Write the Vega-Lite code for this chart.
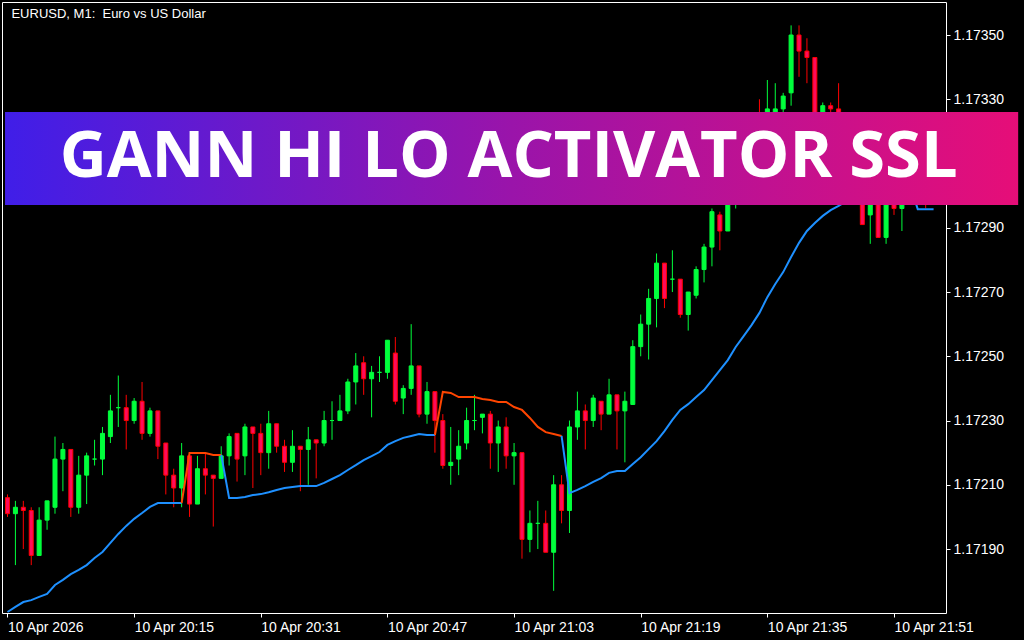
{
  "$schema": "https://vega.github.io/schema/vega-lite/v6.json",
  "width": 944,
  "height": 611,
  "autosize": {"type": "none"},
  "padding": {"left": 2, "top": 2, "right": 78, "bottom": 27},
  "background": "#000000",
  "config": {
    "view": {"stroke": "#ffffff", "strokeWidth": 1},
    "axis": {
      "title": null, "grid": false, "domain": false,
      "tickSize": 4, "tickColor": "#ffffff", "tickWidth": 1,
      "labelColor": "#ffffff", "labelFont": "Liberation Sans", "labelFontSize": 14,
      "labelFlush": false, "labelOverlap": false, "labelBound": false
    }
  },
  "datasets": {
    "candles": [
      {"t":"2026-04-10T19:59","o":1.17206,"h":1.17207,"l":1.17200,"c":1.17201},
      {"t":"2026-04-10T20:00","o":1.17201,"h":1.17205,"l":1.17185,"c":1.17203},
      {"t":"2026-04-10T20:01","o":1.17203,"h":1.17205,"l":1.17190,"c":1.17202},
      {"t":"2026-04-10T20:02","o":1.17202,"h":1.17203,"l":1.17185,"c":1.17188},
      {"t":"2026-04-10T20:03","o":1.17188,"h":1.17203,"l":1.17188,"c":1.17199},
      {"t":"2026-04-10T20:04","o":1.17199,"h":1.17205,"l":1.17196,"c":1.17205},
      {"t":"2026-04-10T20:05","o":1.17203,"h":1.17225,"l":1.17201,"c":1.17218},
      {"t":"2026-04-10T20:06","o":1.17218,"h":1.17223,"l":1.17208,"c":1.17221},
      {"t":"2026-04-10T20:07","o":1.17221,"h":1.17221,"l":1.17200,"c":1.17203},
      {"t":"2026-04-10T20:08","o":1.17203,"h":1.17219,"l":1.17201,"c":1.17213},
      {"t":"2026-04-10T20:09","o":1.17213,"h":1.17220,"l":1.17204,"c":1.17219},
      {"t":"2026-04-10T20:10","o":1.17218,"h":1.17224,"l":1.17216,"c":1.17218},
      {"t":"2026-04-10T20:11","o":1.17218,"h":1.17228,"l":1.17213,"c":1.17226},
      {"t":"2026-04-10T20:12","o":1.17225,"h":1.17238,"l":1.17223,"c":1.17233},
      {"t":"2026-04-10T20:13","o":1.17234,"h":1.17244,"l":1.17228,"c":1.17234},
      {"t":"2026-04-10T20:14","o":1.17234,"h":1.17238,"l":1.17221,"c":1.17230},
      {"t":"2026-04-10T20:15","o":1.17230,"h":1.17237,"l":1.17229,"c":1.17236},
      {"t":"2026-04-10T20:16","o":1.17236,"h":1.17242,"l":1.17224,"c":1.17226},
      {"t":"2026-04-10T20:17","o":1.17226,"h":1.17234,"l":1.17225,"c":1.17233},
      {"t":"2026-04-10T20:18","o":1.17233,"h":1.17233,"l":1.17218,"c":1.17222},
      {"t":"2026-04-10T20:19","o":1.17223,"h":1.17223,"l":1.17207,"c":1.17213},
      {"t":"2026-04-10T20:20","o":1.17213,"h":1.17215,"l":1.17203,"c":1.17209},
      {"t":"2026-04-10T20:21","o":1.17209,"h":1.17223,"l":1.17203,"c":1.17219},
      {"t":"2026-04-10T20:22","o":1.17219,"h":1.17219,"l":1.17200,"c":1.17204},
      {"t":"2026-04-10T20:23","o":1.17204,"h":1.17219,"l":1.17204,"c":1.17215},
      {"t":"2026-04-10T20:24","o":1.17215,"h":1.17220,"l":1.17207,"c":1.17213},
      {"t":"2026-04-10T20:25","o":1.17213,"h":1.17213,"l":1.17197,"c":1.17212},
      {"t":"2026-04-10T20:26","o":1.17212,"h":1.17222,"l":1.17212,"c":1.17219},
      {"t":"2026-04-10T20:27","o":1.17219,"h":1.17226,"l":1.17216,"c":1.17225},
      {"t":"2026-04-10T20:28","o":1.17226,"h":1.17226,"l":1.17211,"c":1.17218},
      {"t":"2026-04-10T20:29","o":1.17219,"h":1.17229,"l":1.17213,"c":1.17228},
      {"t":"2026-04-10T20:30","o":1.17228,"h":1.17228,"l":1.17209,"c":1.17226},
      {"t":"2026-04-10T20:31","o":1.17226,"h":1.17229,"l":1.17213,"c":1.17220},
      {"t":"2026-04-10T20:32","o":1.17220,"h":1.17233,"l":1.17215,"c":1.17229},
      {"t":"2026-04-10T20:33","o":1.17229,"h":1.17229,"l":1.17220,"c":1.17222},
      {"t":"2026-04-10T20:34","o":1.17222,"h":1.17224,"l":1.17214,"c":1.17217},
      {"t":"2026-04-10T20:35","o":1.17217,"h":1.17227,"l":1.17214,"c":1.17222},
      {"t":"2026-04-10T20:36","o":1.17222,"h":1.17222,"l":1.17208,"c":1.17221},
      {"t":"2026-04-10T20:37","o":1.17221,"h":1.17228,"l":1.17210,"c":1.17224},
      {"t":"2026-04-10T20:38","o":1.17224,"h":1.17224,"l":1.17212,"c":1.17223},
      {"t":"2026-04-10T20:39","o":1.17223,"h":1.17233,"l":1.17222,"c":1.17230},
      {"t":"2026-04-10T20:40","o":1.17230,"h":1.17236,"l":1.17224,"c":1.17230},
      {"t":"2026-04-10T20:41","o":1.17230,"h":1.17238,"l":1.17230,"c":1.17233},
      {"t":"2026-04-10T20:42","o":1.17233,"h":1.17243,"l":1.17232,"c":1.17242},
      {"t":"2026-04-10T20:43","o":1.17242,"h":1.17251,"l":1.17235,"c":1.17247},
      {"t":"2026-04-10T20:44","o":1.17248,"h":1.17250,"l":1.17238,"c":1.17243},
      {"t":"2026-04-10T20:45","o":1.17243,"h":1.17247,"l":1.17231,"c":1.17245},
      {"t":"2026-04-10T20:46","o":1.17245,"h":1.17250,"l":1.17242,"c":1.17245},
      {"t":"2026-04-10T20:47","o":1.17245,"h":1.17255,"l":1.17243,"c":1.17255},
      {"t":"2026-04-10T20:48","o":1.17251,"h":1.17256,"l":1.17235,"c":1.17236},
      {"t":"2026-04-10T20:49","o":1.17237,"h":1.17241,"l":1.17232,"c":1.17240},
      {"t":"2026-04-10T20:50","o":1.17240,"h":1.17260,"l":1.17238,"c":1.17247},
      {"t":"2026-04-10T20:51","o":1.17247,"h":1.17247,"l":1.17231,"c":1.17232},
      {"t":"2026-04-10T20:52","o":1.17232,"h":1.17242,"l":1.17229,"c":1.17239},
      {"t":"2026-04-10T20:53","o":1.17239,"h":1.17239,"l":1.17220,"c":1.17230},
      {"t":"2026-04-10T20:54","o":1.17230,"h":1.17232,"l":1.17215,"c":1.17216},
      {"t":"2026-04-10T20:55","o":1.17216,"h":1.17228,"l":1.17210,"c":1.17217},
      {"t":"2026-04-10T20:56","o":1.17218,"h":1.17227,"l":1.17213,"c":1.17222},
      {"t":"2026-04-10T20:57","o":1.17223,"h":1.17234,"l":1.17221,"c":1.17230},
      {"t":"2026-04-10T20:58","o":1.17230,"h":1.17238,"l":1.17227,"c":1.17230},
      {"t":"2026-04-10T20:59","o":1.17231,"h":1.17232,"l":1.17226,"c":1.17232},
      {"t":"2026-04-10T21:00","o":1.17232,"h":1.17233,"l":1.17215,"c":1.17223},
      {"t":"2026-04-10T21:01","o":1.17223,"h":1.17230,"l":1.17214,"c":1.17228},
      {"t":"2026-04-10T21:02","o":1.17228,"h":1.17231,"l":1.17215,"c":1.17219},
      {"t":"2026-04-10T21:03","o":1.17219,"h":1.17223,"l":1.17210,"c":1.17220},
      {"t":"2026-04-10T21:04","o":1.17220,"h":1.17220,"l":1.17187,"c":1.17193},
      {"t":"2026-04-10T21:05","o":1.17193,"h":1.17202,"l":1.17189,"c":1.17198},
      {"t":"2026-04-10T21:06","o":1.17198,"h":1.17205,"l":1.17190,"c":1.17198},
      {"t":"2026-04-10T21:07","o":1.17198,"h":1.17202,"l":1.17189,"c":1.17189},
      {"t":"2026-04-10T21:08","o":1.17189,"h":1.17213,"l":1.17177,"c":1.17210},
      {"t":"2026-04-10T21:09","o":1.17210,"h":1.17213,"l":1.17198,"c":1.17202},
      {"t":"2026-04-10T21:10","o":1.17202,"h":1.17230,"l":1.17195,"c":1.17228},
      {"t":"2026-04-10T21:11","o":1.17228,"h":1.17239,"l":1.17224,"c":1.17233},
      {"t":"2026-04-10T21:12","o":1.17233,"h":1.17235,"l":1.17221,"c":1.17230},
      {"t":"2026-04-10T21:13","o":1.17230,"h":1.17238,"l":1.17228,"c":1.17237},
      {"t":"2026-04-10T21:14","o":1.17236,"h":1.17236,"l":1.17227,"c":1.17232},
      {"t":"2026-04-10T21:15","o":1.17232,"h":1.17243,"l":1.17232,"c":1.17238},
      {"t":"2026-04-10T21:16","o":1.17238,"h":1.17238,"l":1.17221,"c":1.17233},
      {"t":"2026-04-10T21:17","o":1.17233,"h":1.17239,"l":1.17217,"c":1.17236},
      {"t":"2026-04-10T21:18","o":1.17235,"h":1.17255,"l":1.17235,"c":1.17253},
      {"t":"2026-04-10T21:19","o":1.17253,"h":1.17263,"l":1.17250,"c":1.17260},
      {"t":"2026-04-10T21:20","o":1.17260,"h":1.17271,"l":1.17249,"c":1.17268},
      {"t":"2026-04-10T21:21","o":1.17268,"h":1.17282,"l":1.17259,"c":1.17279},
      {"t":"2026-04-10T21:22","o":1.17279,"h":1.17279,"l":1.17265,"c":1.17268},
      {"t":"2026-04-10T21:23","o":1.17274,"h":1.17283,"l":1.17270,"c":1.17274},
      {"t":"2026-04-10T21:24","o":1.17274,"h":1.17274,"l":1.17262,"c":1.17263},
      {"t":"2026-04-10T21:25","o":1.17263,"h":1.17270,"l":1.17258,"c":1.17270},
      {"t":"2026-04-10T21:26","o":1.17269,"h":1.17278,"l":1.17268,"c":1.17277},
      {"t":"2026-04-10T21:27","o":1.17277,"h":1.17285,"l":1.17273,"c":1.17284},
      {"t":"2026-04-10T21:28","o":1.17284,"h":1.17296,"l":1.17278,"c":1.17295},
      {"t":"2026-04-10T21:29","o":1.17294,"h":1.17295,"l":1.17283,"c":1.17289},
      {"t":"2026-04-10T21:30","o":1.17289,"h":1.17307,"l":1.17289,"c":1.17305},
      {"t":"2026-04-10T21:31","o":1.17300,"h":1.17312,"l":1.17296,"c":1.17310},
      {"t":"2026-04-10T21:32","o":1.17310,"h":1.17313,"l":1.17304,"c":1.17306},
      {"t":"2026-04-10T21:33","o":1.17306,"h":1.17315,"l":1.17303,"c":1.17312},
      {"t":"2026-04-10T21:34","o":1.17318,"h":1.17330,"l":1.17306,"c":1.17310},
      {"t":"2026-04-10T21:35","o":1.17312,"h":1.17336,"l":1.17308,"c":1.17327},
      {"t":"2026-04-10T21:36","o":1.17318,"h":1.17335,"l":1.17314,"c":1.17327},
      {"t":"2026-04-10T21:37","o":1.17327,"h":1.17332,"l":1.17325,"c":1.17331},
      {"t":"2026-04-10T21:38","o":1.17332,"h":1.17353,"l":1.17328,"c":1.17350},
      {"t":"2026-04-10T21:39","o":1.17350,"h":1.17353,"l":1.17337,"c":1.17345},
      {"t":"2026-04-10T21:40","o":1.17345,"h":1.17349,"l":1.17335,"c":1.17343},
      {"t":"2026-04-10T21:41","o":1.17343,"h":1.17343,"l":1.17314,"c":1.17318},
      {"t":"2026-04-10T21:42","o":1.17318,"h":1.17329,"l":1.17315,"c":1.17328},
      {"t":"2026-04-10T21:43","o":1.17328,"h":1.17329,"l":1.17320,"c":1.17327},
      {"t":"2026-04-10T21:44","o":1.17327,"h":1.17335,"l":1.17310,"c":1.17315},
      {"t":"2026-04-10T21:45","o":1.17315,"h":1.17318,"l":1.17305,"c":1.17308},
      {"t":"2026-04-10T21:46","o":1.17308,"h":1.17312,"l":1.17301,"c":1.17304},
      {"t":"2026-04-10T21:47","o":1.17302,"h":1.17305,"l":1.17291,"c":1.17291},
      {"t":"2026-04-10T21:48","o":1.17294,"h":1.17303,"l":1.17285,"c":1.17300},
      {"t":"2026-04-10T21:49","o":1.17300,"h":1.17303,"l":1.17287,"c":1.17287},
      {"t":"2026-04-10T21:50","o":1.17287,"h":1.17304,"l":1.17285,"c":1.17302},
      {"t":"2026-04-10T21:51","o":1.17300,"h":1.17302,"l":1.17294,"c":1.17296},
      {"t":"2026-04-10T21:52","o":1.17296,"h":1.17303,"l":1.17289,"c":1.17301},
      {"t":"2026-04-10T21:53","o":1.17301,"h":1.17303,"l":1.17298,"c":1.17299},
      {"t":"2026-04-10T21:54","o":1.17299,"h":1.17303,"l":1.17298,"c":1.17301},
      {"t":"2026-04-10T21:55","o":1.17301,"h":1.17303,"l":1.17296,"c":1.17299},
      {"t":"2026-04-10T21:56","o":1.17299,"h":1.17301,"l":1.17298,"c":1.17300}
    ],
    "ssl": [
      {"t":"2026-04-10T19:59","v":1.171704,"seg":1,"trend":"up"},
      {"t":"2026-04-10T20:00","v":1.171720,"seg":1,"trend":"up"},
      {"t":"2026-04-10T20:01","v":1.171735,"seg":1,"trend":"up"},
      {"t":"2026-04-10T20:02","v":1.171741,"seg":1,"trend":"up"},
      {"t":"2026-04-10T20:03","v":1.171751,"seg":1,"trend":"up"},
      {"t":"2026-04-10T20:04","v":1.171760,"seg":1,"trend":"up"},
      {"t":"2026-04-10T20:05","v":1.171788,"seg":1,"trend":"up"},
      {"t":"2026-04-10T20:06","v":1.171804,"seg":1,"trend":"up"},
      {"t":"2026-04-10T20:07","v":1.171822,"seg":1,"trend":"up"},
      {"t":"2026-04-10T20:08","v":1.171835,"seg":1,"trend":"up"},
      {"t":"2026-04-10T20:09","v":1.171850,"seg":1,"trend":"up"},
      {"t":"2026-04-10T20:10","v":1.171872,"seg":1,"trend":"up"},
      {"t":"2026-04-10T20:11","v":1.171891,"seg":1,"trend":"up"},
      {"t":"2026-04-10T20:12","v":1.171919,"seg":1,"trend":"up"},
      {"t":"2026-04-10T20:13","v":1.171947,"seg":1,"trend":"up"},
      {"t":"2026-04-10T20:14","v":1.171972,"seg":1,"trend":"up"},
      {"t":"2026-04-10T20:15","v":1.171994,"seg":1,"trend":"up"},
      {"t":"2026-04-10T20:16","v":1.172012,"seg":1,"trend":"up"},
      {"t":"2026-04-10T20:17","v":1.172031,"seg":1,"trend":"up"},
      {"t":"2026-04-10T20:18","v":1.172043,"seg":1,"trend":"up"},
      {"t":"2026-04-10T20:19","v":1.172043,"seg":1,"trend":"up"},
      {"t":"2026-04-10T20:20","v":1.172043,"seg":1,"trend":"up"},
      {"t":"2026-04-10T20:21","v":1.172043,"seg":1,"trend":"up"},
      {"t":"2026-04-10T20:21","v":1.172043,"seg":2,"trend":"down"},
      {"t":"2026-04-10T20:22","v":1.172199,"seg":2,"trend":"down"},
      {"t":"2026-04-10T20:23","v":1.172199,"seg":2,"trend":"down"},
      {"t":"2026-04-10T20:24","v":1.172199,"seg":2,"trend":"down"},
      {"t":"2026-04-10T20:25","v":1.172193,"seg":2,"trend":"down"},
      {"t":"2026-04-10T20:26","v":1.172193,"seg":2,"trend":"down"},
      {"t":"2026-04-10T20:26","v":1.172193,"seg":3,"trend":"up"},
      {"t":"2026-04-10T20:27","v":1.172059,"seg":3,"trend":"up"},
      {"t":"2026-04-10T20:28","v":1.172059,"seg":3,"trend":"up"},
      {"t":"2026-04-10T20:29","v":1.172062,"seg":3,"trend":"up"},
      {"t":"2026-04-10T20:30","v":1.172068,"seg":3,"trend":"up"},
      {"t":"2026-04-10T20:31","v":1.172071,"seg":3,"trend":"up"},
      {"t":"2026-04-10T20:32","v":1.172077,"seg":3,"trend":"up"},
      {"t":"2026-04-10T20:33","v":1.172084,"seg":3,"trend":"up"},
      {"t":"2026-04-10T20:34","v":1.172090,"seg":3,"trend":"up"},
      {"t":"2026-04-10T20:35","v":1.172093,"seg":3,"trend":"up"},
      {"t":"2026-04-10T20:36","v":1.172096,"seg":3,"trend":"up"},
      {"t":"2026-04-10T20:37","v":1.172096,"seg":3,"trend":"up"},
      {"t":"2026-04-10T20:38","v":1.172096,"seg":3,"trend":"up"},
      {"t":"2026-04-10T20:39","v":1.172106,"seg":3,"trend":"up"},
      {"t":"2026-04-10T20:40","v":1.172118,"seg":3,"trend":"up"},
      {"t":"2026-04-10T20:41","v":1.172130,"seg":3,"trend":"up"},
      {"t":"2026-04-10T20:42","v":1.172146,"seg":3,"trend":"up"},
      {"t":"2026-04-10T20:43","v":1.172161,"seg":3,"trend":"up"},
      {"t":"2026-04-10T20:44","v":1.172177,"seg":3,"trend":"up"},
      {"t":"2026-04-10T20:45","v":1.172189,"seg":3,"trend":"up"},
      {"t":"2026-04-10T20:46","v":1.172202,"seg":3,"trend":"up"},
      {"t":"2026-04-10T20:47","v":1.172224,"seg":3,"trend":"up"},
      {"t":"2026-04-10T20:48","v":1.172236,"seg":3,"trend":"up"},
      {"t":"2026-04-10T20:49","v":1.172246,"seg":3,"trend":"up"},
      {"t":"2026-04-10T20:50","v":1.172252,"seg":3,"trend":"up"},
      {"t":"2026-04-10T20:51","v":1.172258,"seg":3,"trend":"up"},
      {"t":"2026-04-10T20:52","v":1.172255,"seg":3,"trend":"up"},
      {"t":"2026-04-10T20:53","v":1.172255,"seg":3,"trend":"up"},
      {"t":"2026-04-10T20:53","v":1.172255,"seg":4,"trend":"down"},
      {"t":"2026-04-10T20:54","v":1.172389,"seg":4,"trend":"down"},
      {"t":"2026-04-10T20:55","v":1.172386,"seg":4,"trend":"down"},
      {"t":"2026-04-10T20:56","v":1.172373,"seg":4,"trend":"down"},
      {"t":"2026-04-10T20:57","v":1.172373,"seg":4,"trend":"down"},
      {"t":"2026-04-10T20:58","v":1.172373,"seg":4,"trend":"down"},
      {"t":"2026-04-10T20:59","v":1.172367,"seg":4,"trend":"down"},
      {"t":"2026-04-10T21:00","v":1.172364,"seg":4,"trend":"down"},
      {"t":"2026-04-10T21:01","v":1.172358,"seg":4,"trend":"down"},
      {"t":"2026-04-10T21:02","v":1.172358,"seg":4,"trend":"down"},
      {"t":"2026-04-10T21:03","v":1.172342,"seg":4,"trend":"down"},
      {"t":"2026-04-10T21:04","v":1.172333,"seg":4,"trend":"down"},
      {"t":"2026-04-10T21:05","v":1.172308,"seg":4,"trend":"down"},
      {"t":"2026-04-10T21:06","v":1.172280,"seg":4,"trend":"down"},
      {"t":"2026-04-10T21:07","v":1.172264,"seg":4,"trend":"down"},
      {"t":"2026-04-10T21:08","v":1.172258,"seg":4,"trend":"down"},
      {"t":"2026-04-10T21:09","v":1.172252,"seg":4,"trend":"down"},
      {"t":"2026-04-10T21:09","v":1.172252,"seg":5,"trend":"up"},
      {"t":"2026-04-10T21:10","v":1.172074,"seg":5,"trend":"up"},
      {"t":"2026-04-10T21:11","v":1.172084,"seg":5,"trend":"up"},
      {"t":"2026-04-10T21:12","v":1.172096,"seg":5,"trend":"up"},
      {"t":"2026-04-10T21:13","v":1.172109,"seg":5,"trend":"up"},
      {"t":"2026-04-10T21:14","v":1.172121,"seg":5,"trend":"up"},
      {"t":"2026-04-10T21:15","v":1.172137,"seg":5,"trend":"up"},
      {"t":"2026-04-10T21:16","v":1.172143,"seg":5,"trend":"up"},
      {"t":"2026-04-10T21:17","v":1.172143,"seg":5,"trend":"up"},
      {"t":"2026-04-10T21:18","v":1.172165,"seg":5,"trend":"up"},
      {"t":"2026-04-10T21:19","v":1.172186,"seg":5,"trend":"up"},
      {"t":"2026-04-10T21:20","v":1.172211,"seg":5,"trend":"up"},
      {"t":"2026-04-10T21:21","v":1.172236,"seg":5,"trend":"up"},
      {"t":"2026-04-10T21:22","v":1.172267,"seg":5,"trend":"up"},
      {"t":"2026-04-10T21:23","v":1.172302,"seg":5,"trend":"up"},
      {"t":"2026-04-10T21:24","v":1.172333,"seg":5,"trend":"up"},
      {"t":"2026-04-10T21:25","v":1.172351,"seg":5,"trend":"up"},
      {"t":"2026-04-10T21:26","v":1.172373,"seg":5,"trend":"up"},
      {"t":"2026-04-10T21:27","v":1.172395,"seg":5,"trend":"up"},
      {"t":"2026-04-10T21:28","v":1.172426,"seg":5,"trend":"up"},
      {"t":"2026-04-10T21:29","v":1.172457,"seg":5,"trend":"up"},
      {"t":"2026-04-10T21:30","v":1.172488,"seg":5,"trend":"up"},
      {"t":"2026-04-10T21:31","v":1.172529,"seg":5,"trend":"up"},
      {"t":"2026-04-10T21:32","v":1.172563,"seg":5,"trend":"up"},
      {"t":"2026-04-10T21:33","v":1.172597,"seg":5,"trend":"up"},
      {"t":"2026-04-10T21:34","v":1.172635,"seg":5,"trend":"up"},
      {"t":"2026-04-10T21:35","v":1.172684,"seg":5,"trend":"up"},
      {"t":"2026-04-10T21:36","v":1.172725,"seg":5,"trend":"up"},
      {"t":"2026-04-10T21:37","v":1.172762,"seg":5,"trend":"up"},
      {"t":"2026-04-10T21:38","v":1.172809,"seg":5,"trend":"up"},
      {"t":"2026-04-10T21:39","v":1.172853,"seg":5,"trend":"up"},
      {"t":"2026-04-10T21:40","v":1.172890,"seg":5,"trend":"up"},
      {"t":"2026-04-10T21:41","v":1.172915,"seg":5,"trend":"up"},
      {"t":"2026-04-10T21:42","v":1.172937,"seg":5,"trend":"up"},
      {"t":"2026-04-10T21:43","v":1.172955,"seg":5,"trend":"up"},
      {"t":"2026-04-10T21:44","v":1.172968,"seg":5,"trend":"up"},
      {"t":"2026-04-10T21:45","v":1.172983,"seg":5,"trend":"up"},
      {"t":"2026-04-10T21:46","v":1.172996,"seg":5,"trend":"up"},
      {"t":"2026-04-10T21:47","v":1.173005,"seg":5,"trend":"up"},
      {"t":"2026-04-10T21:48","v":1.173014,"seg":5,"trend":"up"},
      {"t":"2026-04-10T21:49","v":1.173021,"seg":5,"trend":"up"},
      {"t":"2026-04-10T21:50","v":1.173027,"seg":5,"trend":"up"},
      {"t":"2026-04-10T21:51","v":1.173030,"seg":5,"trend":"up"},
      {"t":"2026-04-10T21:52","v":1.173033,"seg":5,"trend":"up"},
      {"t":"2026-04-10T21:53","v":1.173036,"seg":5,"trend":"up"},
      {"t":"2026-04-10T21:54","v":1.172958,"seg":5,"trend":"up"},
      {"t":"2026-04-10T21:55","v":1.172958,"seg":5,"trend":"up"},
      {"t":"2026-04-10T21:56","v":1.172958,"seg":5,"trend":"up"}
    ],
    "banner": [
      {"t1":"2026-04-10T19:58:41.250","t2":"2026-04-10T22:06:41.250","p1":1.1732604,"p2":1.1729709,"tc":"2026-04-10T21:02:18.750","pc":1.173058,"label":"GANN HI LO ACTIVATOR SSL"}
    ],
    "caption": [
      {"t":"2026-04-10T19:59:30","p":1.173553,"label":"EURUSD, M1:\u00a0 Euro vs US Dollar"}
    ]
  },
  "layer": [
    {
      "data": {"name": "candles"},
      "mark": {"type": "rule", "strokeWidth": 1, "clip": true},
      "encoding": {
        "x": {
          "field": "t", "type": "temporal", "title": null,
          "scale": {"domain": [
            {"year": 2026, "month": 4, "date": 10, "hours": 19, "minutes": 58, "seconds": 56, "milliseconds": 250},
            {"year": 2026, "month": 4, "date": 10, "hours": 21, "minutes": 56, "seconds": 56, "milliseconds": 250}
          ]},
          "axis": {
            "orient": "bottom",
            "values": [
              {"year": 2026, "month": 4, "date": 10, "hours": 19, "minutes": 59},
              {"year": 2026, "month": 4, "date": 10, "hours": 20, "minutes": 15},
              {"year": 2026, "month": 4, "date": 10, "hours": 20, "minutes": 31},
              {"year": 2026, "month": 4, "date": 10, "hours": 20, "minutes": 47},
              {"year": 2026, "month": 4, "date": 10, "hours": 21, "minutes": 3},
              {"year": 2026, "month": 4, "date": 10, "hours": 21, "minutes": 19},
              {"year": 2026, "month": 4, "date": 10, "hours": 21, "minutes": 35},
              {"year": 2026, "month": 4, "date": 10, "hours": 21, "minutes": 51}
            ],
            "labelExpr": "hours(datum.value) == 19 ? '10 Apr 2026' : '10 Apr ' + timeFormat(datum.value, '%H:%M')",
            "labelAlign": "left", "labelBaseline": "top", "labelPadding": 3
          }
        },
        "y": {
          "field": "l", "type": "quantitative", "title": null,
          "scale": {"domain": [1.1717009, 1.1736028], "zero": false, "nice": false},
          "axis": {
            "orient": "right",
            "values": [1.1719, 1.1721, 1.1723, 1.1725, 1.1727, 1.1729, 1.1731, 1.1733, 1.1735],
            "format": ".5f",
            "labelPadding": 3, "labelBaseline": "middle", "labelAlign": "left"
          }
        },
        "y2": {"field": "h"},
        "color": {"condition": {"test": "datum.c >= datum.o", "value": "#00ff3c"}, "value": "#ff0000"}
      }
    },
    {
      "data": {"name": "candles"},
      "mark": {"type": "bar", "size": 4, "strokeWidth": 1, "clip": true},
      "encoding": {
        "x": {"field": "t", "type": "temporal", "title": null},
        "y": {"field": "o", "type": "quantitative", "title": null},
        "y2": {"field": "c"},
        "fill": {"condition": {"test": "datum.c >= datum.o", "value": "#00ff3c"}, "value": "#ff0a5a"},
        "stroke": {"condition": {"test": "datum.c >= datum.o", "value": "#00ff3c"}, "value": "#ff0000"}
      }
    },
    {
      "data": {"name": "ssl"},
      "mark": {"type": "line", "strokeWidth": 2, "clip": true},
      "encoding": {
        "x": {"field": "t", "type": "temporal", "title": null},
        "y": {"field": "v", "type": "quantitative", "title": null},
        "detail": {"field": "seg", "type": "nominal"},
        "color": {"field": "trend", "type": "nominal", "scale": {"domain": ["up", "down"], "range": ["#1e90ff", "#ff4500"]}, "legend": null}
      }
    },
    {
      "data": {"name": "banner"},
      "mark": {
        "type": "rect", "clip": false,
        "color": {"gradient": "linear", "x1": 0, "y1": 0, "x2": 1, "y2": 0,
          "stops": [
            {"offset": 0, "color": "#401ee8"},
            {"offset": 0.5, "color": "#9a14aa"},
            {"offset": 1, "color": "#e60e78"}
          ]}
      },
      "encoding": {
        "x": {"field": "t1", "type": "temporal", "title": null},
        "x2": {"field": "t2"},
        "y": {"field": "p1", "type": "quantitative", "title": null},
        "y2": {"field": "p2"}
      }
    },
    {
      "data": {"name": "banner"},
      "mark": {"type": "text", "clip": false, "font": "Open Sans", "fontWeight": 700, "fontSize": 65, "align": "center", "baseline": "alphabetic", "color": "#ffffff"},
      "encoding": {
        "x": {"field": "tc", "type": "temporal", "title": null},
        "y": {"field": "pc", "type": "quantitative", "title": null},
        "text": {"field": "label"}
      }
    },
    {
      "data": {"name": "caption"},
      "mark": {"type": "text", "clip": false, "font": "Liberation Sans", "fontSize": 13, "align": "left", "baseline": "alphabetic", "color": "#ffffff"},
      "encoding": {
        "x": {"field": "t", "type": "temporal", "title": null},
        "y": {"field": "p", "type": "quantitative", "title": null},
        "text": {"field": "label"}
      }
    }
  ]
}
